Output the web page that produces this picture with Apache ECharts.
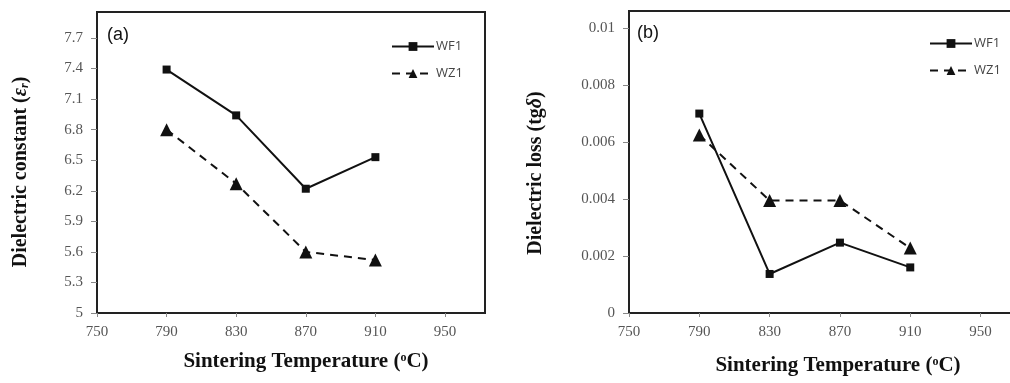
<!DOCTYPE html>
<html><head><meta charset="utf-8">
<script src="https://cdn.jsdelivr.net/npm/echarts@6/dist/echarts.min.js"></script>
<style>html,body{margin:0;padding:0;background:#fff;overflow:hidden}#c{width:1030px;height:383px}</style>
</head><body><div id="c"></div>
<script>
const temps = [790, 830, 870, 910];
const xTicks = [750, 790, 830, 870, 910, 950];
const constWF1 = [7.39, 6.94, 6.22, 6.53];
const constWZ1 = [6.80, 6.27, 5.60, 5.52];
const constTicks = [5, 5.3, 5.6, 5.9, 6.2, 6.5, 6.8, 7.1, 7.4, 7.7];
const lossWF1 = [0.0070, 0.00137, 0.00247, 0.0016];
const lossWZ1 = [0.00625, 0.00395, 0.00395, 0.00228];
const lossTicks = [0, 0.002, 0.004, 0.006, 0.008, 0.01];
const seriesNames = ['WF1', 'WZ1'];

const pair = (xs, ys) => xs.map((x, i) => [x, ys[i]]);
const serif = 'Liberation Serif';
const tickLabel = {color: '#555', fontFamily: serif, fontSize: 15};

function xAxis(gi, max) {
  return {
    type: 'value', gridIndex: gi, min: 750, max: max,
    axisLine: {show: true, lineStyle: {color: '#222', width: 2}},
    axisTick: {show: true, length: 4, inside: false, customValues: xTicks, lineStyle: {color: '#888'}},
    axisLabel: {customValues: xTicks, margin: 12, ...tickLabel},
    splitLine: {show: false}
  };
}
function yAxis(gi, min, max, ticks) {
  return {
    type: 'value', gridIndex: gi, min: min, max: max,
    axisLine: {show: true, lineStyle: {color: '#222', width: 2}},
    axisTick: {show: true, length: 6, customValues: ticks, lineStyle: {color: '#888'}},
    axisLabel: {customValues: ticks, margin: 14, ...tickLabel, formatter: v => String(+v.toFixed(4))},
    splitLine: {show: false}
  };
}
function line(name, xi, data, dashed) {
  return {
    name: name, type: 'line', xAxisIndex: xi, yAxisIndex: xi, data: data,
    symbol: dashed ? 'triangle' : 'rect', symbolSize: dashed ? 13 : 8,
    itemStyle: {color: '#111'},
    lineStyle: {color: '#111', width: 2, type: dashed ? [8, 6] : 'solid'},
    animation: false
  };
}
const titleRich = {
  b: {fontFamily: serif, fontWeight: 'bold', fontSize: 21, fill: '#111'},
  i: {fontFamily: serif, fontStyle: 'italic', fontWeight: 'bold', fontSize: 21, fill: '#111'},
  sub: {fontFamily: serif, fontStyle: 'italic', fontWeight: 'bold', fontSize: 12, fill: '#111', verticalAlign: 'bottom', padding: [8, 0, 0, 0]},
  sup: {fontFamily: serif, fontWeight: 'bold', fontSize: 12, fill: '#111', padding: [0, 0, 9, 0]}
};
const yRich = {
  b: {...titleRich.b, fontSize: 20},
  i: {...titleRich.i, fontSize: 20},
  sub: titleRich.sub
};
function txt(x, y, text, rot, rich) {
  return {type: 'text', x: x, y: y, rotation: rot || 0,
    style: {text: text, rich: rich || titleRich, fontFamily: serif, fontWeight: 'bold', fontSize: 20, fill: '#111', align: 'center', verticalAlign: 'middle'}};
}
function legend(left, top) {
  return {
    orient: 'vertical', left: left, top: top, itemWidth: 42, itemHeight: 11, itemGap: 14,
    textStyle: {fontFamily: 'Open Sans', fontSize: 13, color: '#444', padding: [0, 0, 0, -3]},
    data: seriesNames
  };
}

const chart = echarts.init(document.getElementById('c'));
chart.setOption({
  animation: false,
  backgroundColor: '#fff',
  grid: [
    {left: 97, top: 12, width: 388, height: 301, show: true, borderColor: '#222', borderWidth: 2},
    {left: 629, top: 11, width: 392, height: 302, show: true, borderColor: '#222', borderWidth: 2}
  ],
  xAxis: [xAxis(0, 973), xAxis(1, 973)],
  yAxis: [yAxis(0, 5, 7.955, constTicks), yAxis(1, 0, 0.0106, lossTicks)],
  legend: [legend(386, 35), legend(924, 32)],
  series: [
    line(seriesNames[0], 0, pair(temps, constWF1), false),
    line(seriesNames[1], 0, pair(temps, constWZ1), true),
    line(seriesNames[0], 1, pair(temps, lossWF1), false),
    line(seriesNames[1], 1, pair(temps, lossWZ1), true)
  ],
  graphic: [
    {type: 'text', x: 107, y: 35, style: {text: '(a)', fontFamily: 'Liberation Sans', fontSize: 18, fill: '#111', verticalAlign: 'middle'}},
    {type: 'text', x: 637, y: 33, style: {text: '(b)', fontFamily: 'Liberation Sans', fontSize: 18, fill: '#111', verticalAlign: 'middle'}},
    txt(306, 362, '{b|Sintering Temperature (}{sup|o}{b|C)}'),
    txt(838, 366, '{b|Sintering Temperature (}{sup|o}{b|C)}'),
    txt(21, 172, '{b|Dielectric constant (}{i|ε}{sub|r}{b|)}', Math.PI / 2, yRich),
    txt(536, 173, '{b|Dielectric loss (tg}{i|δ}{b|)}', Math.PI / 2, yRich)
  ]
});
</script></body></html>
